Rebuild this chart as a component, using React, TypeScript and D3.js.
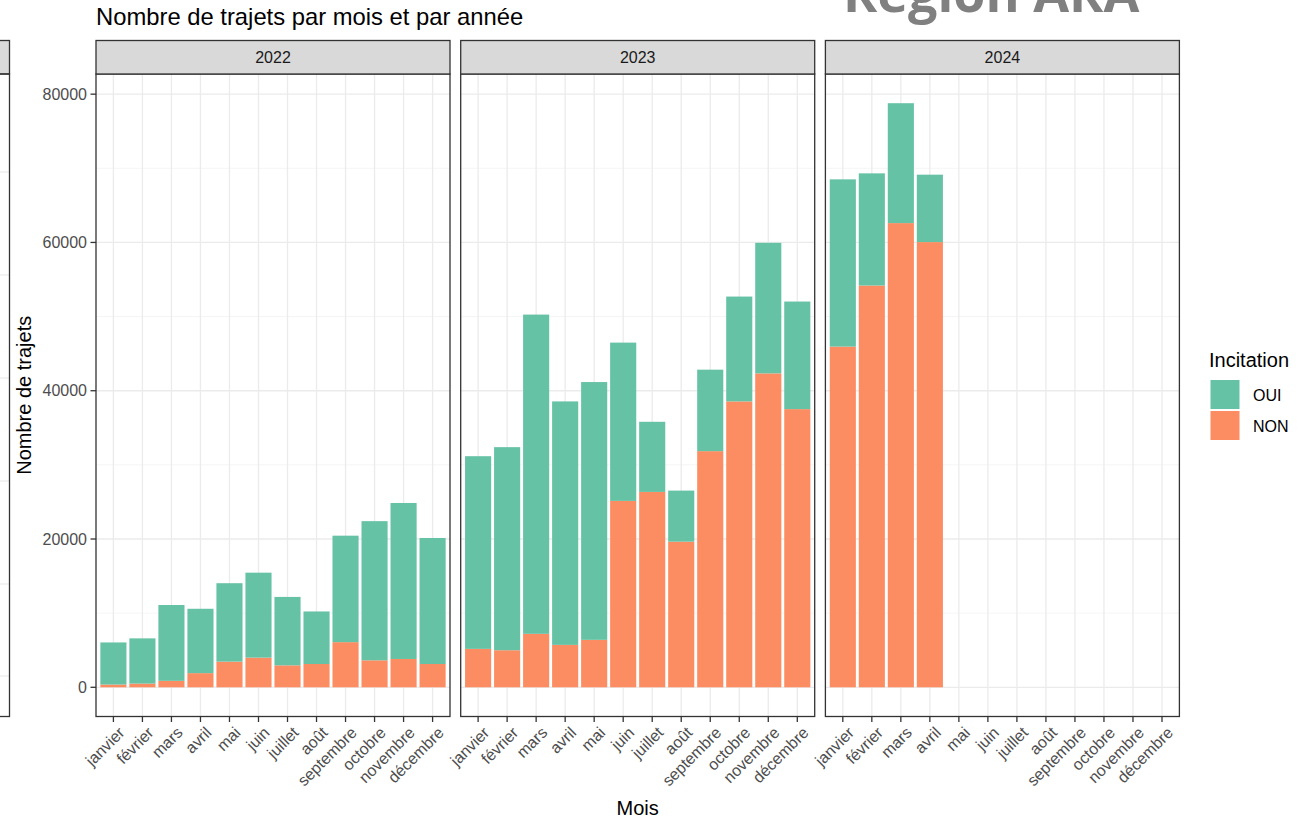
import React, { useEffect, useRef } from "react";
import * as d3 from "d3";

// mois et années (facettes)
const months = [
  "janvier", "février", "mars", "avril", "mai", "juin",
  "juillet", "août", "septembre", "octobre", "novembre", "décembre",
];
const years = ["2022", "2023", "2024"];

// trajets sans incitation (NON), par année
const non2022 = [370, 500, 870, 1910, 3460, 4000, 2960, 3140, 6090, 3640, 3820, 3140];
const non2023 = [5180, 5000, 7210, 5720, 6400, 25140, 26350, 19640, 31850, 38560, 42340, 37520];
const non2024 = [45950, 54190, 62610, 60050];

// trajets avec incitation (OUI), par année
const oui2022 = [5680, 6100, 10230, 8680, 10580, 11460, 9230, 7090, 14360, 18770, 21040, 17000];
const oui2023 = [25990, 27390, 43060, 32840, 34770, 21350, 9460, 6890, 10990, 14140, 17610, 14510];
const oui2024 = [22560, 15130, 16170, 9090];

const yTicks = [0, 20000, 40000, 60000, 80000];
const yMinor = [10000, 30000, 50000, 70000];

const keys = ["NON", "OUI"];
const colors: Record<string, string> = { OUI: "#66C2A5", NON: "#FC8D62" };

const W = 1306;
const H = 819;

interface Row {
  month: string;
  OUI: number;
  NON: number;
}

const App: React.FC = () => {
  const svgRef = useRef<SVGSVGElement>(null);

  useEffect(() => {
    if (!svgRef.current) return;
    const svg = d3.select(svgRef.current);
    svg.selectAll("*").remove();

    const nonByYear = [non2022, non2023, non2024];
    const ouiByYear = [oui2022, oui2023, oui2024];
    const tables: Row[][] = years.map((_, yi) =>
      nonByYear[yi].map((v, i) => ({ month: months[i], NON: v, OUI: ouiByYear[yi][i] }))
    );

    // mise en page des facettes
    const panelTop = 74;
    const panelBottom = 716.5;
    const stripTop = 40.5;
    const panelW = 354;
    const gap = 10.7;
    const firstX = 96;
    const font = "Liberation Sans, Arial, sans-serif";
    const tickSize = "16px";
    const titleSize = "20px";

    const maxTotal = d3.max(tables.flat(), (d) => d.OUI + d.NON) || 0;
    const pad = maxTotal * 0.05;
    const y = d3.scaleLinear().domain([-pad, maxTotal + pad]).range([panelBottom, panelTop]);

    svg.append("rect").attr("width", W).attr("height", H).attr("fill", "white");

    // restes d'un autre graphique à gauche + titre de diapositive
    const left = svg.append("g");
    left.append("rect").attr("x", -20).attr("y", panelTop).attr("width", 29.5)
      .attr("height", panelBottom - panelTop).attr("fill", "white");
    [172, 275, 378, 481, 584, 676].forEach((gy) => {
      left.append("line").attr("x1", 0).attr("x2", 9).attr("y1", gy).attr("y2", gy)
        .attr("stroke", "#EBEBEB").attr("stroke-width", 1.2);
    });
    left.append("rect").attr("x", -20).attr("y", stripTop).attr("width", 29.5)
      .attr("height", panelTop - stripTop).attr("fill", "#D9D9D9")
      .attr("stroke", "#333").attr("stroke-width", 1.3);
    left.append("rect").attr("x", -20).attr("y", panelTop).attr("width", 29.5)
      .attr("height", panelBottom - panelTop).attr("fill", "none")
      .attr("stroke", "#333").attr("stroke-width", 1.3);

    svg.append("text")
      .attr("x", 843).attr("y", 12)
      .style("font-family", "Open Sans, sans-serif")
      .style("font-weight", "bold")
      .style("font-size", "52px")
      .style("fill", "#808080")
      .text("Région ARA");

    // titre
    svg.append("text")
      .attr("x", 96).attr("y", 25)
      .style("font-family", font).style("font-size", "23.8px").style("fill", "#000")
      .text("Nombre de trajets par mois et par année");

    const stack = d3.stack<Row>().keys(keys);

    years.forEach((year, yi) => {
      const x0 = firstX + yi * (panelW + gap);
      const x = d3.scalePoint<string>().domain(months).range([x0, x0 + panelW]).padding(0.6);
      const bw = x.step() * 0.9;
      const g = svg.append("g");

      // grille
      yMinor.forEach((v) => {
        g.append("line").attr("x1", x0).attr("x2", x0 + panelW)
          .attr("y1", y(v)).attr("y2", y(v))
          .attr("stroke", "#F2F2F2").attr("stroke-width", 0.8);
      });
      yTicks.forEach((v) => {
        g.append("line").attr("x1", x0).attr("x2", x0 + panelW)
          .attr("y1", y(v)).attr("y2", y(v))
          .attr("stroke", "#EBEBEB").attr("stroke-width", 1.3);
      });
      months.forEach((m) => {
        g.append("line").attr("x1", x(m)!).attr("x2", x(m)!)
          .attr("y1", panelTop).attr("y2", panelBottom)
          .attr("stroke", "#EBEBEB").attr("stroke-width", 1.3);
      });

      // barres empilées
      const series = stack(tables[yi]);
      g.selectAll(".serie")
        .data(series)
        .enter()
        .append("g")
        .attr("fill", (s) => colors[s.key])
        .selectAll("rect")
        .data((s) => s)
        .enter()
        .append("rect")
        .attr("x", (d) => x(d.data.month)! - bw / 2)
        .attr("width", bw)
        .attr("y", (d) => y(d[1]))
        .attr("height", (d) => y(d[0]) - y(d[1]));

      // bordure du panneau
      g.append("rect").attr("x", x0).attr("y", panelTop)
        .attr("width", panelW).attr("height", panelBottom - panelTop)
        .attr("fill", "none").attr("stroke", "#333").attr("stroke-width", 1.3);

      // bandeau
      g.append("rect").attr("x", x0).attr("y", stripTop)
        .attr("width", panelW).attr("height", panelTop - stripTop)
        .attr("fill", "#D9D9D9").attr("stroke", "#333").attr("stroke-width", 1.3);
      g.append("text")
        .attr("x", x0 + panelW / 2).attr("y", (stripTop + panelTop) / 2)
        .attr("text-anchor", "middle").attr("dominant-baseline", "central")
        .style("font-family", font).style("font-size", tickSize).style("fill", "#1A1A1A")
        .text(year);

      // axe x
      months.forEach((m) => {
        g.append("line").attr("x1", x(m)!).attr("x2", x(m)!)
          .attr("y1", panelBottom).attr("y2", panelBottom + 5.5)
          .attr("stroke", "#333").attr("stroke-width", 1.3);
        g.append("text")
          .attr("transform", `translate(${x(m)! + 4},${panelBottom + 9}) rotate(-45)`)
          .attr("text-anchor", "end").attr("dy", "0.72em")
          .style("font-family", font).style("font-size", tickSize).style("fill", "#4D4D4D")
          .text(m);
      });
    });

    // axe y
    yTicks.forEach((v) => {
      svg.append("line").attr("x1", firstX - 5.5).attr("x2", firstX)
        .attr("y1", y(v)).attr("y2", y(v))
        .attr("stroke", "#333").attr("stroke-width", 1.3);
      svg.append("text")
        .attr("x", firstX - 9).attr("y", y(v))
        .attr("text-anchor", "end").attr("dominant-baseline", "central")
        .style("font-family", font).style("font-size", tickSize).style("fill", "#4D4D4D")
        .text(String(v));
    });

    // titres des axes
    const plotRight = firstX + 3 * panelW + 2 * gap;
    svg.append("text")
      .attr("x", (firstX + plotRight) / 2).attr("y", 815)
      .attr("text-anchor", "middle")
      .style("font-family", font).style("font-size", titleSize).style("fill", "#000")
      .text("Mois");
    svg.append("text")
      .attr("transform", `translate(31,${(panelTop + panelBottom) / 2}) rotate(-90)`)
      .attr("text-anchor", "middle")
      .style("font-family", font).style("font-size", titleSize).style("fill", "#000")
      .text("Nombre de trajets");

    // légende
    const legend = svg.append("g").attr("transform", "translate(1209,0)");
    legend.append("text")
      .attr("x", 0).attr("y", 367)
      .style("font-family", font).style("font-size", titleSize).style("fill", "#000")
      .text("Incitation");
    ["OUI", "NON"].forEach((k, i) => {
      legend.append("rect")
        .attr("x", 1.5).attr("y", 380 + i * 31)
        .attr("width", 29).attr("height", 29)
        .attr("fill", colors[k]);
      legend.append("text")
        .attr("x", 44).attr("y", 395 + i * 31)
        .attr("dominant-baseline", "central")
        .style("font-family", font).style("font-size", tickSize).style("fill", "#000")
        .text(k);
    });
  }, []);

  return (
    <svg
      ref={svgRef}
      width={W}
      height={H}
      style={{ position: "absolute", left: 0, top: 0, display: "block" }}
    />
  );
};

export default App;
